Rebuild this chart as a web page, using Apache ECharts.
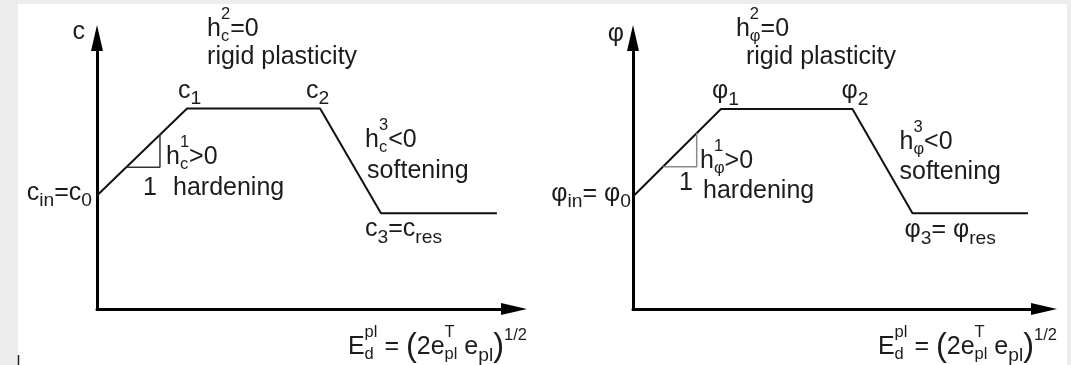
<!DOCTYPE html>
<html>
<head>
<meta charset="utf-8">
<script src="https://cdn.jsdelivr.net/npm/echarts@6/dist/echarts.min.js"></script>
<style>
  html, body { margin: 0; padding: 0; background: #ededed; }
  #chart { width: 1071px; height: 365px; }
</style>
</head>
<body>
<div id="chart"></div>
<script>
// Multilinear hardening / softening laws of the strength parameters
// versus the equivalent plastic strain (schematic units 0..100).
const axisRange = [0, 100];

// cohesion c: c_in = c0, c1, c2, c3 = c_res, residual end
const cohesionStrain = [0, 21.6, 53.5, 68.1, 95.9];
const cohesionValue  = [41.9, 74.0, 74.0, 35.3, 35.3];
// slope triangle (run of 1) on the hardening branch
const cohesionSlopeStrain = [7.0, 15.1, 15.1];
const cohesionSlopeValue  = [52.3, 52.3, 64.5];

// friction angle φ: φ_in = φ0, φ1, φ2, φ3 = φ_res, residual end
const frictionStrain = [0, 21.4, 53.4, 68.0, 96.1];
const frictionValue  = [41.5, 73.8, 73.8, 35.3, 35.3];
const frictionSlopeStrain = [7.3, 15.5, 15.5];
const frictionSlopeValue  = [52.5, 52.5, 64.9];

// Text of the annotations (markup: _{sub}, ^{sup}, ^^{raised}, #{large})
const cohesionTexts = {
  axis: 'c', plateau: 'h_{c}^{2}=0', plateauName: 'rigid plasticity',
  p1: 'c_{1}', p2: 'c_{2}', harden: 'h_{c}^{1}>0', run: '1', hardenName: 'hardening',
  soften: 'h_{c}^{3}<0', softenName: 'softening', initial: 'c_{in}=c_{0}', residual: 'c_{3}=c_{res}',
  strain: 'E_{d}^{pl} = #{(}2e_{pl}^{T} e_{pl}#{)}^^{1/2}'
};
const frictionTexts = {
  axis: 'φ', plateau: 'h_{φ}^{2}=0', plateauName: 'rigid plasticity',
  p1: 'φ_{1}', p2: 'φ_{2}', harden: 'h_{φ}^{1}>0', run: '1', hardenName: 'hardening',
  soften: 'h_{φ}^{3}<0', softenName: 'softening', initial: 'φ_{in}= φ_{0}', residual: 'φ_{3}= φ_{res}',
  strain: 'E_{d}^{pl} = #{(}2e_{pl}^{T} e_{pl}#{)}^^{1/2}'
};

// Placement of each annotation: anchor point (index on the curve or an axis end)
// and pixel offset of the text baseline.
const cohesionPlacement = {
  axis: ['yEnd', -12, 3, 'right'], plateau: [1, 20, -71], plateauName: [1, 20, -43],
  p1: [1, -9, -9], p2: [2, -14, -9], harden: [0, 69, -30], run: [0, 46, 1],
  hardenName: [0, 76, 1], soften: [2, 45, 40], softenName: [2, 47, 71],
  initial: [0, -5, 6, 'right'], residual: [3, -16, 25], strain: ['xEnd', 13, 47, 'right']
};
const frictionPlacement = {
  axis: ['yEnd', -9, 5, 'right'], plateau: [1, 15, -71], plateauName: [1, 25, -43],
  p1: [1, -9, -9], p2: [2, -11, -9], harden: [0, 67, -27], run: [0, 46, -5],
  hardenName: [0, 70, 3], soften: [2, 47, 42], softenName: [2, 47, 72],
  initial: [0, -2, 6, 'right'], residual: [3, -8, 26], strain: ['xEnd', 13, 47, 'right']
};

const FONT = '"Liberation Sans", Arial, Helvetica, sans-serif';
const FS = 25;
const INK = '#1c1c1c';

const measureCtx = document.createElement('canvas').getContext('2d');
function textWidth(t, size) {
  measureCtx.font = size + 'px ' + FONT;
  return measureCtx.measureText(t).width;
}

function parseMarkup(s) {
  const segs = [];
  let i = 0;
  const opener = (k) => {
    if (s.startsWith('^^{', k)) return ['hi', 3];
    if (s.startsWith('_{', k)) return ['sub', 2];
    if (s.startsWith('^{', k)) return ['sup', 2];
    if (s.startsWith('#{', k)) return ['big', 2];
    return null;
  };
  while (i < s.length) {
    const o = opener(i);
    if (o) {
      const j = s.indexOf('}', i);
      segs.push({ text: s.slice(i + o[1], j), kind: o[0] });
      i = j + 1;
    } else {
      let j = i;
      while (j < s.length && !opener(j)) j++;
      segs.push({ text: s.slice(i, j), kind: 'n' });
      i = j;
    }
  }
  return segs;
}

// size factor and baseline shift (in em of the main font)
const SCRIPT = {
  n:   [1, 0],
  sub: [0.77, 0.24],
  sup: [0.68, -0.45],
  hi:  [0.66, -0.6],
  big: [1.3, 0.08],
  stackSub: [0.66, 0.18],
  stackSup: [0.66, -0.7]
};

function layoutMarkup(s) {
  const segs = parseMarkup(s);
  const items = [];
  let x = 0;
  const place = (seg, kind, x0) => {
    const st = SCRIPT[kind];
    const fs = FS * st[0];
    items.push({ text: seg.text, x: x0, dy: st[1] * FS, fs });
    return textWidth(seg.text, fs);
  };
  for (let k = 0; k < segs.length; k++) {
    const a = segs[k], b = segs[k + 1];
    const isScript = (g) => g && (g.kind === 'sub' || g.kind === 'sup');
    if (isScript(a) && isScript(b) && a.kind !== b.kind) {
      const wa = place(a, a.kind === 'sub' ? 'stackSub' : 'stackSup', x);
      const wb = place(b, b.kind === 'sub' ? 'stackSub' : 'stackSup', x);
      x += Math.max(wa, wb);
      k++;
    } else {
      x += place(a, a.kind, x);
    }
  }
  return { items, width: x };
}

function buildPanel(index, xs, ys, slopeXs, slopeYs, texts, placement, slopeColor) {
  const curve = xs.map((x, i) => [x, ys[i]]);
  const slope = slopeXs.map((x, i) => [x, slopeYs[i]]);
  const keys = Object.keys(texts);
  const anchorOf = (at) => {
    if (at === 'yEnd') return [axisRange[0], axisRange[1]];
    if (at === 'xEnd') return [axisRange[1], axisRange[0]];
    return curve[at];
  };
  const notes = keys.map(k => ({
    text: texts[k], dx: placement[k][1], dy: placement[k][2], align: placement[k][3] || 'left'
  }));
  const anchors = keys.map(k => anchorOf(placement[k][0]));
  return [
    {
      type: 'line', xAxisIndex: index, yAxisIndex: index, data: curve,
      symbol: 'none', silent: true,
      lineStyle: { color: '#111', width: 2 }
    },
    {
      type: 'line', xAxisIndex: index, yAxisIndex: index, data: slope,
      symbol: 'none', silent: true,
      lineStyle: { color: slopeColor, width: 1.5 }
    },
    {
      type: 'custom', xAxisIndex: index, yAxisIndex: index, data: anchors,
      silent: true, clip: false,
      renderItem: (params, api) => {
        const note = notes[params.dataIndex];
        const p = api.coord([api.value(0), api.value(1)]);
        const lay = layoutMarkup(note.text);
        const x0 = p[0] + note.dx - (note.align === 'right' ? lay.width : 0);
        const y0 = p[1] + note.dy;
        return {
          type: 'group',
          children: lay.items.map(it => ({
            type: 'text',
            x: x0 + it.x,
            y: y0 + it.dy - 0.35 * it.fs,
            style: {
              text: it.text, fontSize: it.fs, fontFamily: FONT, fill: INK,
              align: 'left', verticalAlign: 'middle'
            }
          }))
        };
      }
    }
  ];
}

function axis(gridIndex) {
  return {
    type: 'value', gridIndex, min: axisRange[0], max: axisRange[1],
    axisLine: {
      show: true, onZero: false,
      lineStyle: { color: '#000', width: 3 },
      symbol: ['none', 'triangle'], symbolSize: [12, 26]
    },
    axisTick: { show: false }, axisLabel: { show: false }, splitLine: { show: false }
  };
}

const chart = echarts.init(document.getElementById('chart'), null, { renderer: 'canvas' });
chart.setOption({
  animation: false,
  backgroundColor: 'transparent',
  graphic: [
    { type: 'rect', left: 18, top: 4, shape: { width: 1049, height: 361 }, style: { fill: '#ffffff' }, z: -10 },
    { type: 'line', shape: { x1: 18.5, y1: 355, x2: 18.5, y2: 365 }, style: { stroke: '#222', lineWidth: 1.5 }, z: -9 }
  ],
  grid: [
    { left: 97, top: 38, width: 417, height: 271 },
    { left: 633, top: 38, width: 411, height: 271 }
  ],
  xAxis: [axis(0), axis(1)],
  yAxis: [axis(0), axis(1)],
  series: [
    ...buildPanel(0, cohesionStrain, cohesionValue, cohesionSlopeStrain, cohesionSlopeValue,
                  cohesionTexts, cohesionPlacement, '#333'),
    ...buildPanel(1, frictionStrain, frictionValue, frictionSlopeStrain, frictionSlopeValue,
                  frictionTexts, frictionPlacement, '#8a8a8a')
  ]
});
</script>
</body>
</html>
